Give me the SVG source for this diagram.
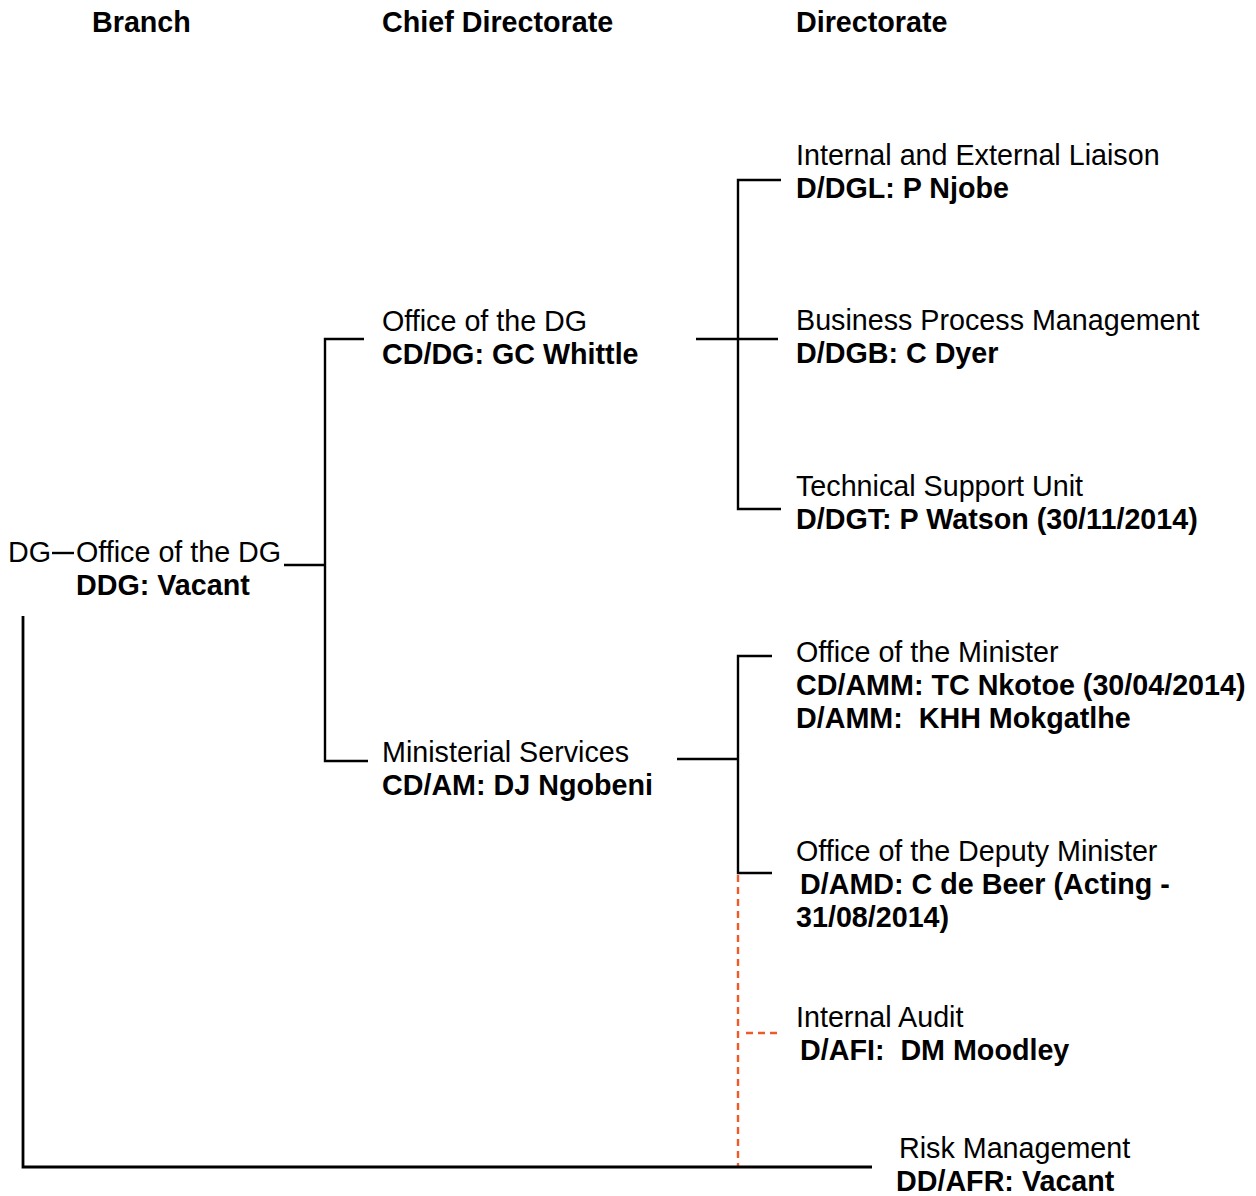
<svg xmlns="http://www.w3.org/2000/svg" width="1256" height="1196" viewBox="0 0 1256 1196">
<style>
text{font-family:"Liberation Sans",Arial,sans-serif;font-size:28.7px;fill:#000;white-space:pre}
.b{font-weight:bold}
.ln{stroke:#000;stroke-width:2.4;fill:none}
.dash{stroke:#f05a28;stroke-width:2.4;stroke-dasharray:7,5;fill:none}
</style>
<rect width="1256" height="1196" fill="#fff"/>
<g id="headers">
<text class="b" x="92" y="32">Branch</text>
<text class="b" x="382" y="32">Chief Directorate</text>
<text class="b" x="796" y="32">Directorate</text>
</g>
<g id="connectors">
<line class="ln" x1="52" y1="553" x2="74" y2="553"/>
<line class="ln" x1="284" y1="565" x2="325" y2="565"/>
<polyline class="ln" points="364,339 325,339 325,761 368,761"/>
<line class="ln" x1="696" y1="339" x2="778" y2="339"/>
<polyline class="ln" points="781,180 738,180 738,509 781,509"/>
<line class="ln" x1="677" y1="759" x2="738" y2="759"/>
<polyline class="ln" points="772,656 738,656 738,873 772,873"/>
<line class="dash" x1="738" y1="875" x2="738" y2="1166"/>
<line class="dash" x1="746" y1="1033" x2="780" y2="1033"/>
<polyline class="ln" points="23,616 23,1167 872,1167" style="stroke-width:2.8"/>
</g>
<g id="dg">
<text x="8" y="562">DG</text>
<text x="76" y="562">Office of the DG</text>
<text class="b" x="76" y="595">DDG: Vacant</text>
</g>
<g id="cd-office-dg">
<text x="382" y="331">Office of the DG</text>
<text class="b" x="382" y="364">CD/DG: GC Whittle</text>
</g>
<g id="cd-ministerial">
<text x="382" y="762">Ministerial Services</text>
<text class="b" x="382" y="795">CD/AM: DJ Ngobeni</text>
</g>
<g id="d-liaison">
<text x="796" y="165">Internal and External Liaison</text>
<text class="b" x="796" y="198">D/DGL: P Njobe</text>
</g>
<g id="d-bpm">
<text x="796" y="330">Business Process Management</text>
<text class="b" x="796" y="363">D/DGB: C Dyer</text>
</g>
<g id="d-tsu">
<text x="796" y="496">Technical Support Unit</text>
<text class="b" x="796" y="529">D/DGT: P Watson (30/11/2014)</text>
</g>
<g id="d-minister">
<text x="796" y="662">Office of the Minister</text>
<text class="b" x="796" y="695">CD/AMM: TC Nkotoe (30/04/2014)</text>
<text class="b" x="796" y="728">D/AMM:  KHH Mokgatlhe</text>
</g>
<g id="d-deputy">
<text x="796" y="861">Office of the Deputy Minister</text>
<text class="b" x="800" y="894">D/AMD: C de Beer (Acting -</text>
<text class="b" x="796" y="927">31/08/2014)</text>
</g>
<g id="d-audit">
<text x="796" y="1027">Internal Audit</text>
<text class="b" x="800" y="1060">D/AFI:  DM Moodley</text>
</g>
<g id="d-risk">
<text x="899" y="1158">Risk Management</text>
<text class="b" x="896" y="1191">DD/AFR: Vacant</text>
</g>
</svg>
